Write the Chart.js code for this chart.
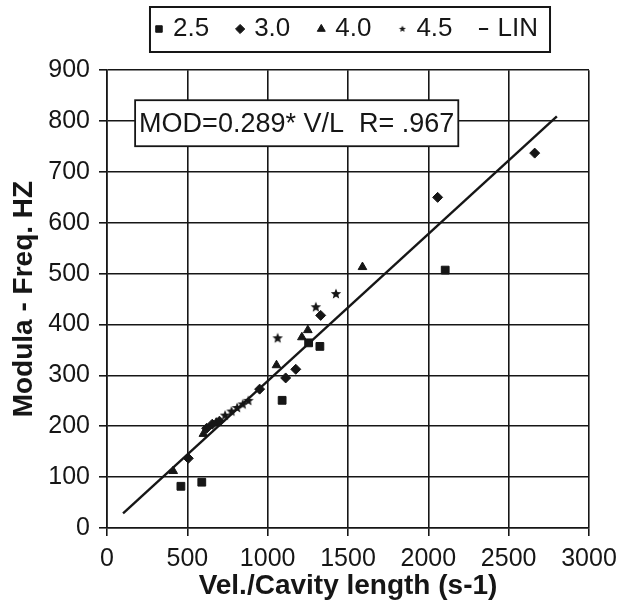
<!DOCTYPE html>
<html>
<head>
<meta charset="utf-8">
<script src="https://cdn.jsdelivr.net/npm/chart.js@4.4.1/dist/chart.umd.min.js"></script>
<style>
  html, body { margin: 0; padding: 0; background: #ffffff; }
  #wrap { width: 634px; height: 605px; position: relative; }
</style>
</head>
<body>
<div id="wrap"><canvas id="chart"></canvas></div>
<script>
// Series names (cavity ratio groups)
const SERIES_NAMES = ['2.5', '3.0', '4.0', '4.5'];
const FIT_NAME = 'LIN';

// Vel./cavity length (s-1) and modulation frequency (Hz) for each group
const x25 = [460, 590, 1090, 1255, 1325, 2105];
const y25 = [82, 90, 251, 364, 357, 507];

const x30 = [506, 620, 655, 700, 950, 1112, 1175, 1330, 2058, 2662];
const y30 = [137, 196, 204, 210, 273, 295, 312, 418, 650, 737];

const x40 = [412, 600, 680, 1055, 1213, 1250, 1590];
const y40 = [112, 185, 207, 320, 375, 389, 513];

const x45 = [735, 775, 810, 845, 880, 1062, 1300, 1425];
const y45 = [221, 229, 236, 243, 250, 373, 434, 460];

// Least-squares fit through the origin: MOD = 0.289 * V/L
const FIT_SLOPE = 0.289;
const FIT_R = '.967';
const FIT_X = [100, 2800];
const FIT_LABEL = 'MOD=' + FIT_SLOPE + '* V/L  R= ' + FIT_R;

// Axis ranges and tick spacing
const X_RANGE = [0, 3000];
const X_STEP = 500;
const Y_RANGE = [0, 900];
const Y_STEP = 100;

const pairs = (xs, ys) => xs.map((x, i) => ({ x: x, y: ys[i] }));

const FONT = '"Liberation Sans", Arial, Helvetica, sans-serif';
const INK = '#161616';

// Small filled five-point star used as a marker
function starImage(size, outer, inner) {
  const c = document.createElement('canvas');
  c.width = size; c.height = size;
  const g = c.getContext('2d');
  const cx = size / 2, cy = size / 2;
  g.beginPath();
  for (let k = 0; k < 10; k++) {
    const r = k % 2 === 0 ? outer : inner;
    const a = -Math.PI / 2 + k * Math.PI / 5;
    const px = cx + r * Math.cos(a), py = cy + r * Math.sin(a);
    if (k === 0) g.moveTo(px, py); else g.lineTo(px, py);
  }
  g.closePath();
  g.fillStyle = INK;
  g.fill();
  return c;
}
const STAR = starImage(12, 5.5, 2.4);
const STAR_SMALL = starImage(8, 3.6, 1.6);

const LEGEND_STYLES = ['rect', 'rectRot', 'triangle', STAR_SMALL, 'line'];

// Frame round the legend and the boxed fit equation
const framesPlugin = {
  id: 'frames',
  afterDatasetsDraw(chart, args, opts) {
    const ctx = chart.ctx;
    const xs = chart.scales.x, ys = chart.scales.y;
    const left = xs.getPixelForValue(opts.labelAt[0]);
    const top = ys.getPixelForValue(opts.labelAt[1]);
    ctx.save();
    ctx.font = '27px ' + FONT;
    const w = ctx.measureText(FIT_LABEL).width + 8;
    const h = 46;
    ctx.fillStyle = '#ffffff';
    ctx.fillRect(left, top, w, h);
    ctx.lineWidth = 1.8;
    ctx.strokeStyle = INK;
    ctx.strokeRect(left, top, w, h);
    ctx.fillStyle = INK;
    ctx.textBaseline = 'middle';
    ctx.textAlign = 'left';
    ctx.fillText(FIT_LABEL, left + 4, top + h / 2 + 1);
    ctx.restore();
  },
  afterDraw(chart) {
    const lg = chart.legend;
    if (!lg || !lg.legendHitBoxes || !lg.legendHitBoxes.length) return;
    const hb = lg.legendHitBoxes;
    const l = Math.min(...hb.map(b => b.left)) - 8;
    const r = Math.max(...hb.map(b => b.left + b.width)) + 12;
    const cy = hb[0].top + hb[0].height / 2;
    const ctx = chart.ctx;
    ctx.save();
    ctx.lineWidth = 2;
    ctx.strokeStyle = INK;
    ctx.strokeRect(l, cy - 22, r - l, 45);
    ctx.restore();
  }
};

const markerBase = {
  backgroundColor: INK,
  borderColor: INK,
  borderWidth: 1,
  showLine: false
};

const data = {
  datasets: [
    Object.assign({ label: SERIES_NAMES[0], data: pairs(x25, y25), pointStyle: 'rect', pointRadius: 5.5 }, markerBase),
    Object.assign({ label: SERIES_NAMES[1], data: pairs(x30, y30), pointStyle: 'rectRot', pointRadius: 5 }, markerBase),
    Object.assign({ label: SERIES_NAMES[2], data: pairs(x40, y40), pointStyle: 'triangle', pointRadius: 5 }, markerBase),
    Object.assign({ label: SERIES_NAMES[3], data: pairs(x45, y45), pointStyle: STAR, pointRadius: 5 }, markerBase),
    {
      label: FIT_NAME,
      data: FIT_X.map(x => ({ x: x, y: FIT_SLOPE * x })),
      showLine: true,
      borderColor: INK,
      backgroundColor: INK,
      borderWidth: 2.4,
      pointRadius: 0
    }
  ]
};

const gridOpts = { color: INK, lineWidth: 1.6, tickLength: 8, drawTicks: true };

new Chart(document.getElementById('chart'), {
  type: 'scatter',
  data: data,
  plugins: [framesPlugin],
  options: {
    responsive: true,
    maintainAspectRatio: false,
    animation: false,
    devicePixelRatio: 1,
    layout: { padding: { top: -14, right: 45, bottom: 0, left: 0 } },
    scales: {
      x: {
        type: 'linear',
        min: X_RANGE[0], max: X_RANGE[1],
        ticks: { stepSize: X_STEP, color: INK, font: { family: FONT, size: 25 }, padding: 8, maxRotation: 0,
                 callback: v => String(v) },
        grid: gridOpts,
        border: { color: INK, width: 1.6 },
        title: { display: true, text: 'Vel./Cavity length (s-1)', color: INK,
                 font: { family: FONT, size: 28, weight: 'bold' }, padding: { top: 0, bottom: 2 } },
        afterFit(scale) { scale.height = 77; }
      },
      y: {
        type: 'linear',
        min: Y_RANGE[0], max: Y_RANGE[1],
        ticks: { stepSize: Y_STEP, color: INK, font: { family: FONT, size: 25 }, padding: 9 },
        grid: gridOpts,
        border: { color: INK, width: 1.6 },
        title: { display: true, text: 'Modula - Freq. HZ', color: INK,
                 font: { family: FONT, size: 28, weight: 'bold' }, padding: { top: 7, bottom: 0 } },
        afterFit(scale) { scale.width = 107; }
      }
    },
    plugins: {
      title: { display: true, text: '', position: 'top', weight: 500, fullSize: false,
               font: { size: 1 }, padding: { top: 0, bottom: 17 } },
      legend: {
        display: true,
        position: 'top',
        fullSize: false,
        labels: {
          usePointStyle: true,
          boxWidth: 2,
          boxHeight: 6.5,
          padding: 30,
          color: INK,
          font: { family: FONT, size: 26 },
          generateLabels(chart) {
            return chart.data.datasets.map((ds, i) => ({
              text: ds.label,
              fillStyle: INK,
              strokeStyle: INK,
              lineWidth: i === 4 ? 2 : 1,
              pointStyle: LEGEND_STYLES[i],
              hidden: false,
              datasetIndex: i,
              fontColor: INK
            }));
          }
        }
      },
      tooltip: { enabled: false },
      frames: { labelAt: [175, 841] }
    }
  }
});
</script>
</body>
</html>
